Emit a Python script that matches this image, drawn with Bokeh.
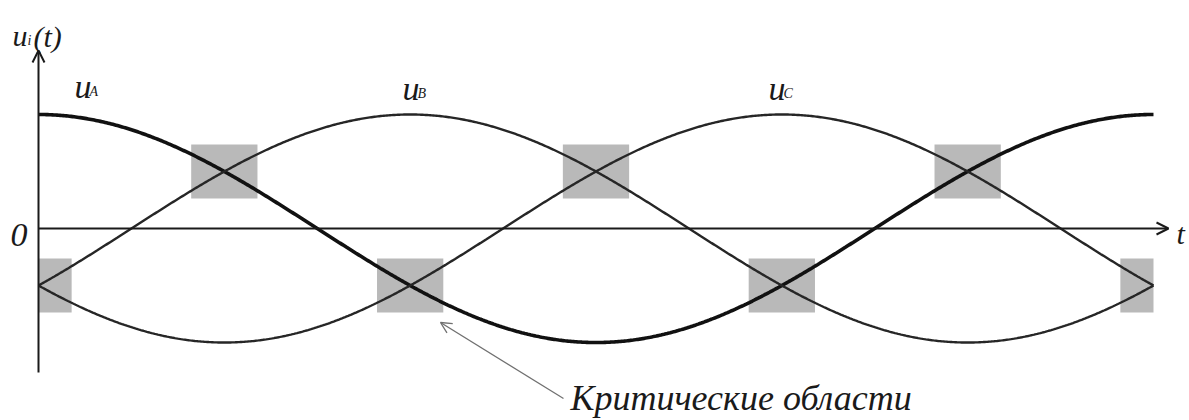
import numpy as np
from bokeh.plotting import figure
from bokeh.models import Arrow, OpenHead
from bokeh.core.properties import value
from bokeh.embed import file_html
from bokeh.resources import INLINE

# ---- data ----
phase_names = ["A", "B", "C"]
phase_shift_deg = [0, 120, 240]          # u_A = cos(wt), u_B = cos(wt-120), u_C = cos(wt-240)
amplitude = [1.0, 1.0, 1.0]
period_deg = [0, 360]

# critical regions (intersections of phase curves)
region_center_deg = [0, 60, 120, 180, 240, 300, 360]
region_center_val = [-0.5, 0.5, -0.5, 0.5, -0.5, 0.5, -0.5]

# ---- scale helpers (page px -> data) ----
PX0, PXS = 38.0, 1115.0 / 360.0
PY0, PYS = 228.0, 114.0
def dx(px): return (px - PX0) / PXS
def dy(py): return (PY0 - py) / PYS

W, H = 1189, 420
p = figure(width=W, height=H, output_backend="svg", toolbar_location=None,
           x_range=(dx(0), dx(W)), y_range=(dy(H), dy(0)),
           min_border=0, outline_line_color=None)
p.axis.visible = False
p.grid.visible = False
p.background_fill_color = "white"
p.border_fill_color = "white"

# critical regions
hw, hh = 10.7, 0.237
lefts = [max(c - hw, period_deg[0]) for c in region_center_deg]
rights = [min(c + hw, period_deg[1]) for c in region_center_deg]
bottoms = [v - hh for v in region_center_val]
tops = [v + hh for v in region_center_val]
p.quad(left=lefts, right=rights, bottom=bottoms, top=tops,
       fill_color="#b9b9b9", line_color=None)

# axes
p.add_layout(Arrow(end=OpenHead(size=12, line_width=2, line_color="#1a1a1a"),
                   x_start=0, y_start=dy(372), x_end=0, y_end=dy(50),
                   line_width=2, line_color="#1a1a1a"))
p.add_layout(Arrow(end=OpenHead(size=12, line_width=2, line_color="#1a1a1a"),
                   x_start=0, y_start=0, x_end=dx(1168), y_end=0,
                   line_width=2, line_color="#1a1a1a"))

# curves
wt = np.linspace(period_deg[0], period_deg[1], 721)
widths = [3.6, 2.4, 2.4]
colors = ["#111111", "#262626", "#262626"]
for name, sh, a, lw, c in zip(phase_names, phase_shift_deg, amplitude, widths, colors):
    y = a * np.cos(np.radians(wt - sh))
    p.line(wt, y, line_width=lw, line_color=c)

serif = value("Liberation Serif")
def txt(x, y, s, size, color="#1a1a1a"):
    p.text(x=[x], y=[y], text=[s], text_font=serif, text_font_style="italic",
           text_font_size=size, text_color=color, text_align="left",
           text_baseline="alphabetic")

# phase labels
txt(dx(74), dy(86), "u", "34px")
txt(dx(89), dy(91), "A", "14px")
txt(dx(402), dy(88), "u", "34px")
txt(dx(417), dy(93), "B", "14px")
txt(dx(768), dy(88), "u", "34px")
txt(dx(783), dy(93), "C", "14px")

# axis labels
txt(dx(12), dy(35), "u", "30px")
txt(dx(27), dy(40), "i", "14px")
txt(dx(33), dy(36), "(t)", "30px")
txt(dx(10), dy(234), "0", "34px")
txt(dx(1176), dy(233), "t", "30px")

# annotation
p.add_layout(Arrow(end=OpenHead(size=11, line_width=1.3, line_color="#707070"),
                   x_start=dx(563), y_start=dy(398), x_end=dx(440), y_end=dy(322),
                   line_width=1.3, line_color="#707070"))
txt(dx(570), dy(397), "Критические области", "36px")

open("out.html", "w").write(file_html(p, INLINE))
